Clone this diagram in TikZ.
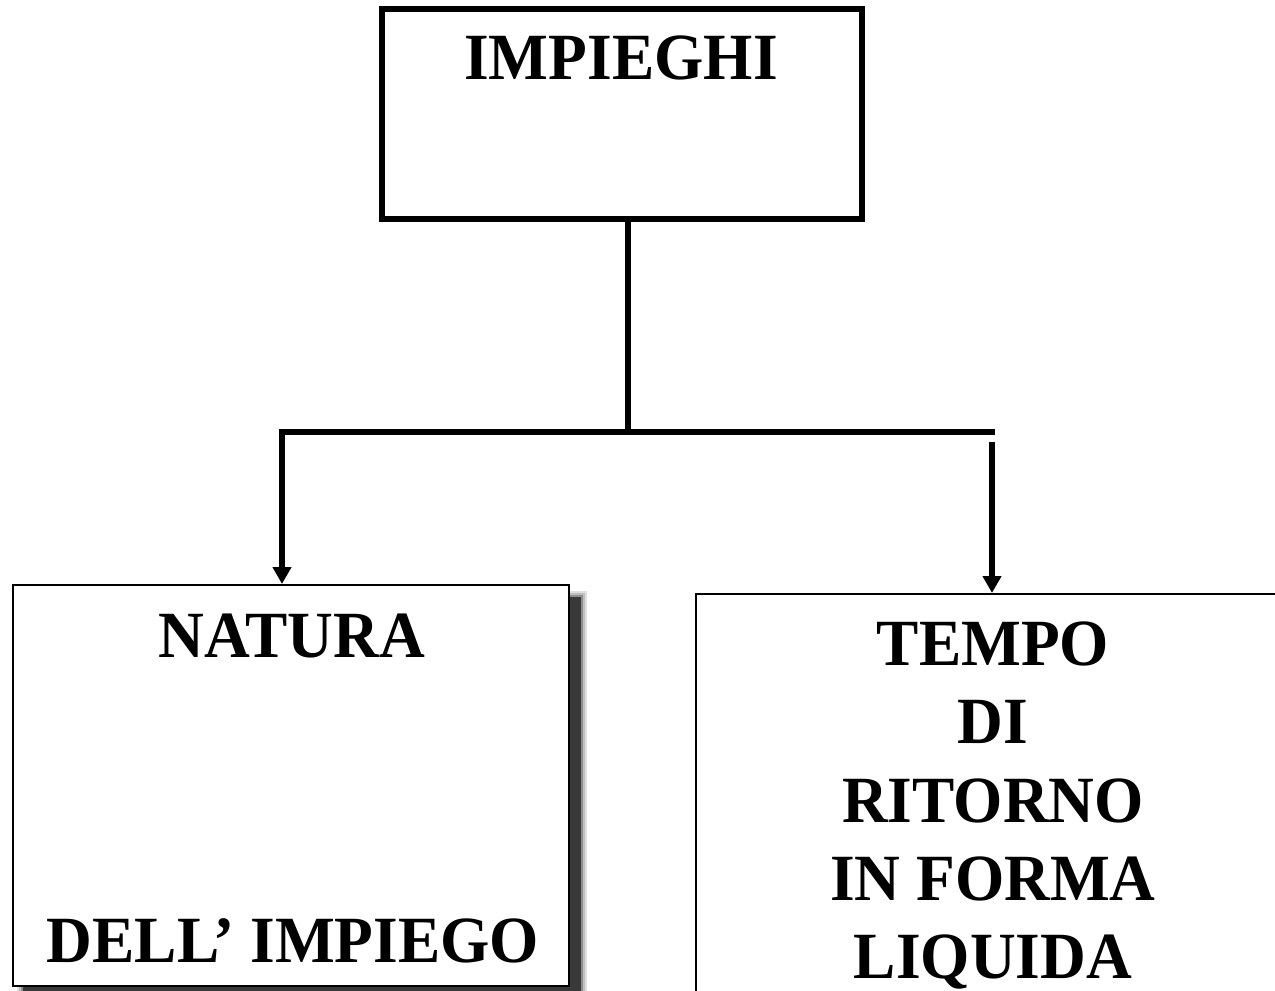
\documentclass[tikz,border=0pt]{standalone}
\usepackage{fontspec}
\setmainfont[FakeStretch=0.96]{Liberation Serif}
\usetikzlibrary{arrows.meta}
\begin{document}
\begin{tikzpicture}[x=1pt,y=-1pt,
  lbl/.style={font=\fontsize{66}{78}\selectfont\bfseries, anchor=base, inner sep=0pt},
  thickbox/.style={draw, line width=5.5pt, fill=white, inner sep=0pt},
  thinbox/.style={draw, line width=2pt, fill=white, inner sep=0pt},
  conn/.style={line width=6pt},
  arr/.style={conn, -{Triangle[length=17pt,width=18pt]}}]
\useasboundingbox (0,0) rectangle (1275,991);

% top box
\node[thickbox, minimum width=480pt, minimum height=210pt] (top) at (622,114) {};
\node[lbl] (ttop) at (621,79) {IMPIEGHI};

% shadow of left box
\foreach \d/\o in {6/0.12,4/0.15,2/0.25,0/0.6}
  \fill[black, opacity=\o] (23-\d,597-\d) rectangle (581+\d,1000+\d);

% left box
\node[thinbox, minimum width=556pt, minimum height=401pt] (left) at (291,785.5) {};
\node[lbl] (l1) at (292,657) {NATURA};
\node[lbl] (l2) at (293,962) {DELL’ IMPIEGO};

% right box
\node[thinbox, minimum width=620pt, minimum height=440pt, anchor=north west] (right) at (695,593) {};
\node[lbl] (r1) at (993,665) {TEMPO};
\node[lbl] (r2) at (993,743) {DI};
\node[lbl] (r3) at (993,822) {RITORNO};
\node[lbl] (r4) at (993,900) {IN FORMA};
\node[lbl] (r5) at (993,978) {LIQUIDA};

% connectors
\coordinate (j) at (628,432);
\coordinate (hl) at (282,432);
\coordinate (hr) at (995,432);
\coordinate (rv) at (992,442);
\draw[conn] (top.south -| j) -- (j);
\draw[arr] (hr) -- (hl) -- (hl |- left.north);
\draw[arr] (rv) -- (rv |- right.north);
\end{tikzpicture}
\end{document}
